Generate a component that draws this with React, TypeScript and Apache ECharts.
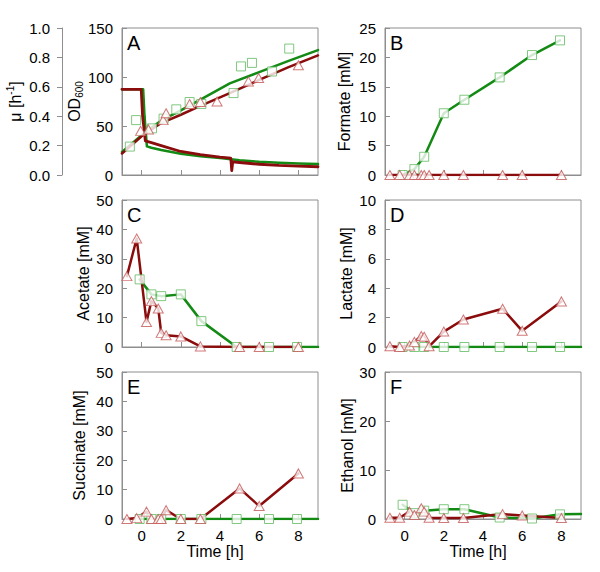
import React, { useEffect, useRef } from 'react';
import * as echarts from 'echarts';

// ---------- data ----------
const timeMin = -1;
const timeMax = 9;
const timeTicks = [0, 2, 4, 6, 8];

// sampling times
const greenTimes = [-0.1, 0.5, 1.0, 2.0, 3.05, 4.85, 6.5, 7.93];
const greenLineEndTime = 9;
const redTimes = [-0.75, -0.25, 0.25, 0.5, 0.85, 1.0, 1.25, 2.0, 3.0, 5.0, 6.0, 8.0];

// Panel A: OD600 measurements
const odGreenTimes = [-0.6, -0.28, 0.53, 1.12, 1.77, 2.45, 3.05, 4.69, 5.07, 5.63, 6.65, 7.53];
const odGreenValues = [29, 56, 47.6, 57.5, 67, 74.5, 72.5, 83.6, 110.8, 114.4, 105.6, 129];
const odRedTimes = [-0.05, 0.35, 1.1, 1.25, 2.45, 3.0, 3.85, 5.45, 5.97, 8.0];
const odRedValues = [45, 46.5, 56, 63, 72.5, 74.5, 75, 95.5, 99, 112];

// Panel A: OD600 model curves
const odFitTimes = [-1, 0, 1, 2, 3, 4.5, 6, 7.5, 9];
const odFitGreen = [23.5, 40.5, 55.5, 66, 77, 93.5, 105, 116.5, 127.5];
const odFitRed = [22, 39.5, 53, 61.5, 70.5, 83.5, 97, 110, 122];

// Panel A: growth rate mu
const muGreenTimes = [-1, 0.08, 0.15, 0.27, 0.5, 1, 2, 3, 4, 5, 6, 7, 8, 9];
const muGreen = [0.583, 0.583, 0.4, 0.195, 0.185, 0.17, 0.145, 0.128, 0.115, 0.1, 0.09, 0.083, 0.078, 0.074];
const muRedTimes = [-1, -0.02, 0.05, 0.19, 0.5, 1, 2, 3, 4, 4.55, 4.6, 4.65, 5, 6, 7, 8, 9];
const muRed = [0.583, 0.583, 0.4, 0.232, 0.22, 0.2, 0.16, 0.138, 0.122, 0.115, 0.03, 0.09, 0.085, 0.073, 0.065, 0.06, 0.056];

// Panel B-F: metabolites [mM]
const formateGreen = [0, 1.0, 3.1, 10.5, 12.8, 16.6, 20.4, 22.9];
const formateRed = [0, 0, 0, 0, 0, 0, 0, 0, 0, 0, 0, 0];
const acetateGreen = [23.0, 17.9, 17.3, 17.9, 8.8, 0, 0, 0];
const acetateGreenEnd = 0;
const acetateRed = [24.1, 36.9, 8.5, 15.6, 13.1, 4.8, 4.0, 3.6, 0.2, 0, 0, 0];
const lactateGreen = [0, 0, 0, 0, 0, 0, 0, 0];
const lactateGreenEnd = 0;
const lactateRed = [0.05, 0, 0.1, 0.35, 0.75, 0.7, 0.05, 1.05, 1.87, 2.6, 1.1, 3.1];
const succinateGreen = [0, 0, 0, 0, 0, 0, 0, 0];
const succinateGreenEnd = 0;
const succinateRed = [0, 0.3, 2.5, 0, 0, 0, 3.0, 0, 0, 10.4, 4.4, 15.5];
const ethanolGreen = [2.9, 1.2, 1.7, 2.0, 2.0, 0.3, 0.1, 0.95];
const ethanolGreenEnd = 1.0;
const ethanolRed = [0.25, 0.25, 1.5, 0.8, 2.2, 1.5, 0.25, 0.2, 0.2, 1.0, 0.7, 0.2];

// axis settings
const odAxis = { min: 0, max: 150, interval: 50 };
const muAxis = { min: 0, max: 1, interval: 0.2 };
const formateAxis = { min: 0, max: 25, interval: 5 };
const acetateAxis = { min: 0, max: 50, interval: 10 };
const lactateAxis = { min: 0, max: 10, interval: 2 };
const succinateAxis = { min: 0, max: 50, interval: 10 };
const ethanolAxis = { min: 0, max: 30, interval: 10 };

// ---------- styles ----------
const FONT = '"Liberation Sans", Arial, Helvetica, sans-serif';
const GRAY = '#8e8e8e';
const GREEN_LINE = '#138a13';
const RED_LINE = '#8a0c0c';
const GREEN_MARK = '#62ba62';
const RED_MARK = '#c45858';

const pairs = (t: number[], v: number[]) => t.map((x, i) => [x, v[i]]);

const gridBoxes = [
  { left: 122, top: 28 },
  { left: 385, top: 28 },
  { left: 122, top: 200 },
  { left: 385, top: 200 },
  { left: 122, top: 372 },
  { left: 385, top: 372 },
];
const GW = 196;
const GH = 147;

type Panel = {
  letter: string;
  name: string;
  axis: { min: number; max: number; interval: number };
  nameGap: number;
  rich?: any;
};

const panels: Panel[] = [
  { letter: 'A', name: '{a|OD}{b|600}', axis: odAxis, nameGap: 34, rich: true },
  { letter: 'B', name: 'Formate [mM]', axis: formateAxis, nameGap: 33 },
  { letter: 'C', name: 'Acetate [mM]', axis: acetateAxis, nameGap: 31 },
  { letter: 'D', name: 'Lactate [mM]', axis: lactateAxis, nameGap: 31 },
  { letter: 'E', name: 'Succinate [mM]', axis: succinateAxis, nameGap: 35 },
  { letter: 'F', name: 'Ethanol [mM]', axis: ethanolAxis, nameGap: 28 },
];

function lineSeries(xi: number, yi: number, data: number[][], color: string, width = 2.5) {
  return {
    type: 'line',
    xAxisIndex: xi,
    yAxisIndex: yi,
    data,
    symbol: 'none',
    showSymbol: false,
    silent: true,
    z: 2,
    lineStyle: { color, width, cap: 'round', join: 'round' },
  };
}

function markSeries(xi: number, yi: number, data: number[][], kind: 'green' | 'red') {
  const green = kind === 'green';
  return {
    type: 'scatter',
    xAxisIndex: xi,
    yAxisIndex: yi,
    data,
    symbol: green ? 'rect' : 'triangle',
    symbolSize: green ? 9 : [10, 9],
    silent: true,
    z: 3,
    itemStyle: { color: '#ffffff', borderColor: green ? GREEN_MARK : RED_MARK, borderWidth: 1 },
  };
}

function buildOption() {
  const grid = gridBoxes.map((g) => ({
    left: g.left,
    top: g.top,
    width: GW,
    height: GH,
    show: true,
    borderColor: GRAY,
    borderWidth: 1,
    backgroundColor: 'transparent',
    outerBoundsMode: 'none',
    containLabel: false,
  }));

  const xAxis = gridBoxes.map((_, i) => {
    const bottom = i >= 4;
    return {
      type: 'value',
      gridIndex: i,
      min: timeMin,
      max: timeMax,
      axisLine: { show: true, onZero: false, lineStyle: { color: GRAY, width: 1 } },
      axisTick: { show: true, inside: true, length: 5, customValues: timeTicks, lineStyle: { color: GRAY } },
      axisLabel: {
        show: bottom,
        customValues: timeTicks,
        color: '#000',
        fontSize: 15,
        fontFamily: FONT,
        margin: 9,
      },
      splitLine: { show: false },
      name: bottom ? 'Time [h]' : '',
      nameLocation: 'middle',
      nameGap: 23,
      nameTextStyle: { color: '#000', fontSize: 16, fontFamily: FONT, padding: [0, 10, 0, 0] },
    };
  });

  const yAxis: any[] = panels.map((p, i) => ({
    type: 'value',
    gridIndex: i,
    min: p.axis.min,
    max: p.axis.max,
    interval: p.axis.interval,
    axisLine: { show: true, onZero: false, lineStyle: { color: GRAY, width: 1 } },
    axisTick: { show: true, inside: true, length: 5, lineStyle: { color: GRAY } },
    axisLabel: { color: '#000', fontSize: 15, fontFamily: FONT, margin: 9 },
    splitLine: { show: false },
    name: p.name,
    nameLocation: 'middle',
    nameRotate: 90,
    nameGap: p.nameGap,
    nameTextStyle: p.rich
      ? {
          color: '#000',
          fontFamily: FONT,
          rich: {
            a: { fontSize: 16, fontFamily: FONT, color: '#000', lineHeight: 20, verticalAlign: 'middle' },
            b: { fontSize: 10, fontFamily: FONT, color: '#000', lineHeight: 10, verticalAlign: 'bottom' },
          },
        }
      : { color: '#000', fontSize: 16, fontFamily: FONT },
  }));

  // mu axis for panel A
  yAxis.push({
    type: 'value',
    gridIndex: 0,
    position: 'left',
    offset: 60,
    min: muAxis.min,
    max: muAxis.max,
    interval: muAxis.interval,
    axisLine: { show: true, onZero: false, lineStyle: { color: GRAY, width: 1 } },
    axisTick: { show: true, inside: false, length: 5, lineStyle: { color: GRAY } },
    axisLabel: {
      color: '#000',
      fontSize: 15,
      fontFamily: FONT,
      margin: 12,
      formatter: (v: number) => v.toFixed(1),
    },
    splitLine: { show: false },
    name: '{a|μ [h}{s|-1}{a|]}',
    nameLocation: 'middle',
    nameRotate: 90,
    nameGap: 37,
    nameTextStyle: {
      color: '#000',
      fontFamily: FONT,
      rich: {
        a: { fontSize: 16, fontFamily: FONT, color: '#000', lineHeight: 20, verticalAlign: 'middle' },
        s: { fontSize: 10, fontFamily: FONT, color: '#000', lineHeight: 10, verticalAlign: 'top' },
      },
    },
  });
  const MU = 6;

  const greenLineTimes = [...greenTimes, greenLineEndTime];

  const series: any[] = [
    // Panel A
    lineSeries(0, MU, pairs(muGreenTimes, muGreen), GREEN_LINE, 2.5),
    lineSeries(0, MU, pairs(muRedTimes, muRed), RED_LINE, 2.8),
    lineSeries(0, 0, pairs(odFitTimes, odFitGreen), GREEN_LINE, 2.5),
    lineSeries(0, 0, pairs(odFitTimes, odFitRed), RED_LINE, 2.5),
    markSeries(0, 0, pairs(odGreenTimes, odGreenValues), 'green'),
    markSeries(0, 0, pairs(odRedTimes, odRedValues), 'red'),
    // Panel B
    lineSeries(1, 1, pairs(greenTimes, formateGreen), GREEN_LINE),
    lineSeries(1, 1, pairs(redTimes, formateRed), RED_LINE),
    markSeries(1, 1, pairs(greenTimes, formateGreen), 'green'),
    markSeries(1, 1, pairs(redTimes, formateRed), 'red'),
    // Panel C
    lineSeries(2, 2, pairs(greenLineTimes, [...acetateGreen, acetateGreenEnd]), GREEN_LINE),
    lineSeries(2, 2, pairs(redTimes, acetateRed), RED_LINE),
    markSeries(2, 2, pairs(greenTimes, acetateGreen), 'green'),
    markSeries(2, 2, pairs(redTimes, acetateRed), 'red'),
    // Panel D
    lineSeries(3, 3, pairs(greenLineTimes, [...lactateGreen, lactateGreenEnd]), GREEN_LINE),
    lineSeries(3, 3, pairs(redTimes, lactateRed), RED_LINE),
    markSeries(3, 3, pairs(greenTimes, lactateGreen), 'green'),
    markSeries(3, 3, pairs(redTimes, lactateRed), 'red'),
    // Panel E
    lineSeries(4, 4, pairs(greenLineTimes, [...succinateGreen, succinateGreenEnd]), GREEN_LINE),
    lineSeries(4, 4, pairs(redTimes, succinateRed), RED_LINE),
    markSeries(4, 4, pairs(greenTimes, succinateGreen), 'green'),
    markSeries(4, 4, pairs(redTimes, succinateRed), 'red'),
    // Panel F
    lineSeries(5, 5, pairs(greenLineTimes, [...ethanolGreen, ethanolGreenEnd]), GREEN_LINE),
    lineSeries(5, 5, pairs(redTimes, ethanolRed), RED_LINE),
    markSeries(5, 5, pairs(greenTimes, ethanolGreen), 'green'),
    markSeries(5, 5, pairs(redTimes, ethanolRed), 'red'),
  ];

  const letterX = [127, 390, 127, 390, 127, 390];
  const graphic = panels.map((p, i) => ({
    type: 'text',
    x: letterX[i],
    y: gridBoxes[i].top + 15,
    silent: true,
    z: 10,
    style: {
      text: p.letter,
      fontSize: 20,
      fontFamily: FONT,
      fill: '#000',
      verticalAlign: 'middle',
      align: 'left',
    },
  }));

  return {
    animation: false,
    backgroundColor: '#ffffff',
    textStyle: { fontFamily: FONT },
    grid,
    xAxis,
    yAxis,
    series,
    graphic,
  };
}

export default function App() {
  const ref = useRef<HTMLDivElement>(null);
  useEffect(() => {
    if (!ref.current) return;
    const chart = echarts.init(ref.current, undefined, { renderer: 'svg' });
    chart.setOption(buildOption() as any);
    return () => chart.dispose();
  }, []);
  return (
    <div
      ref={ref}
      style={{ position: 'absolute', left: 0, top: 0, width: 600, height: 572, background: '#fff' }}
    />
  );
}
